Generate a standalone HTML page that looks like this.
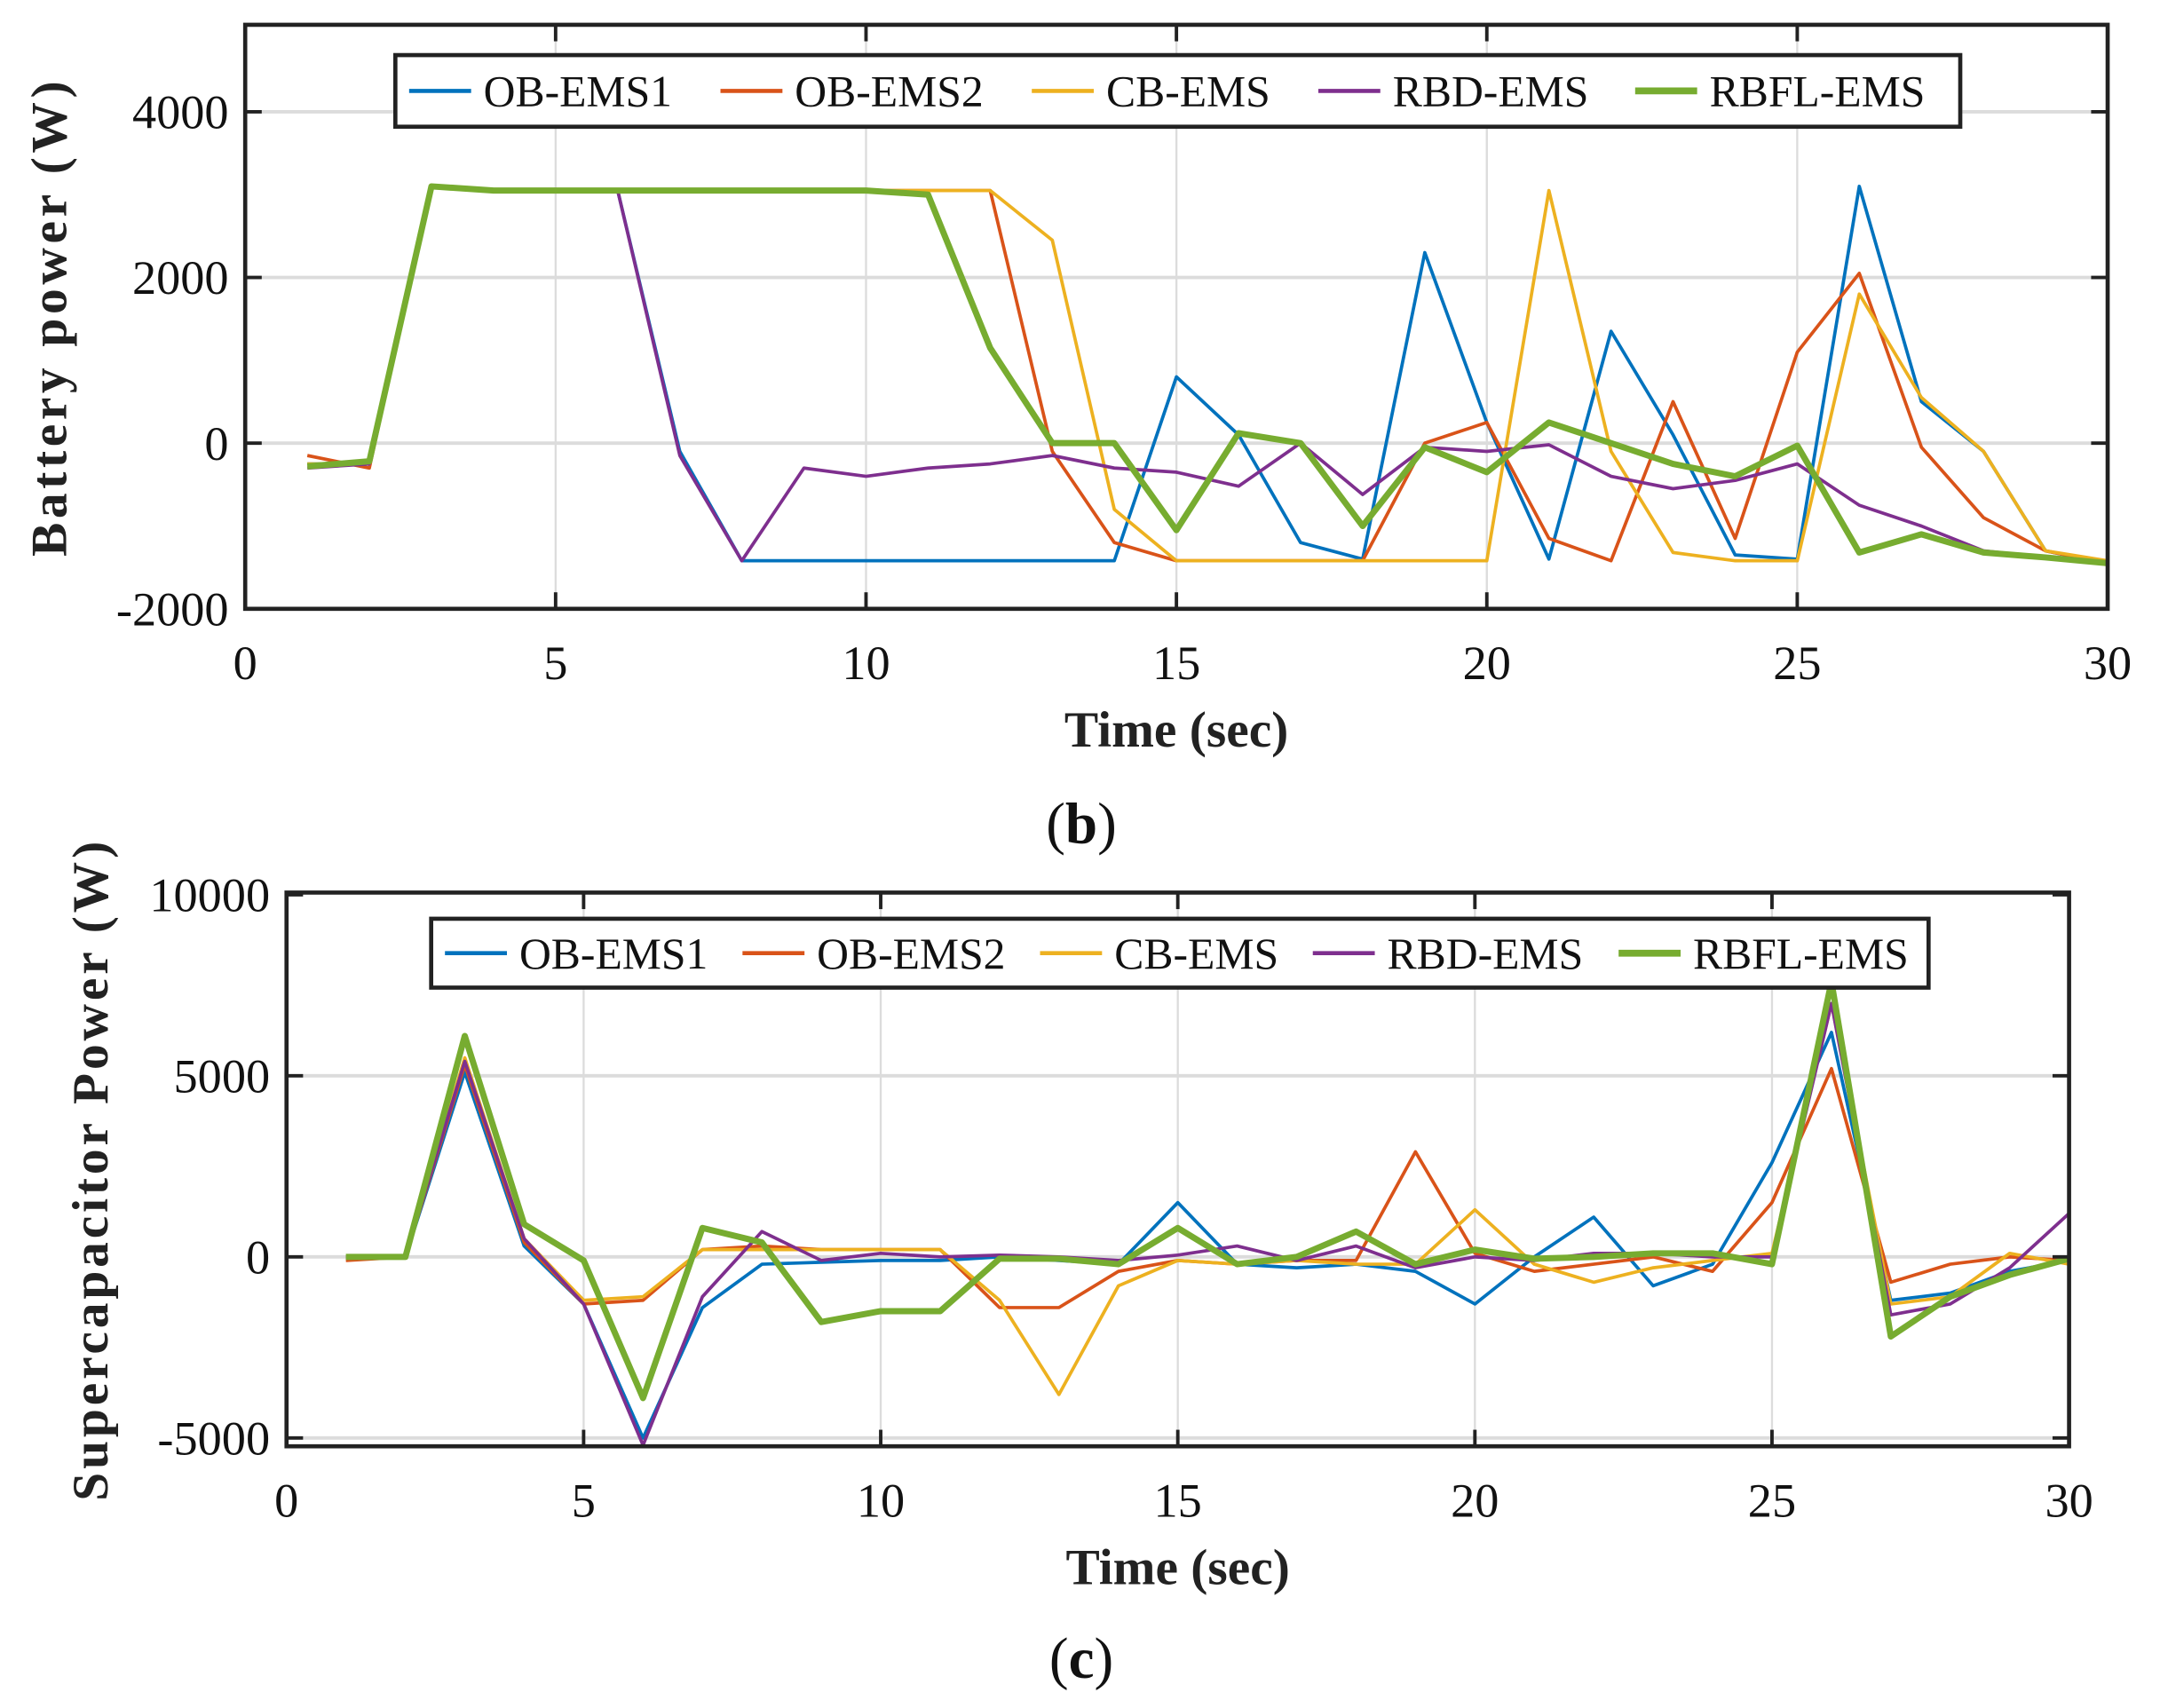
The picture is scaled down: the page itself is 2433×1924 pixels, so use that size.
<!DOCTYPE html>
<html><head><meta charset="utf-8"><style>
html,body{margin:0;padding:0;background:#fff;}
svg{display:block;font-family:"Liberation Serif",serif;}
</style></head><body>
<svg id="fig" width="2433" height="1924" viewBox="0 0 1568 1240" preserveAspectRatio="none" xmlns="http://www.w3.org/2000/svg"></svg>
<script>
const times = [1,2,3,4,5,6,7,8,9,10,11,12,13,14,15,16,17,18,19,20,21,22,23,24,25,26,27,28,29,30];
const seriesNames = ["OB-EMS1","OB-EMS2","CB-EMS","RBD-EMS","RBFL-EMS"];
const bat_ob1 = [-250,-250,3100,3050,3050,3050,-100,-1420,-1420,-1420,-1420,-1420,-1420,-1420,800,100,-1200,-1400,2300,250,-1400,1350,100,-1350,-1400,3100,500,-100,-1300,-1450];
const bat_ob2 = [-150,-300,3100,3050,3050,3050,3050,3050,3050,3050,3050,3050,-100,-1200,-1420,-1420,-1420,-1420,0,250,-1150,-1420,500,-1150,1100,2050,-50,-900,-1300,-1450];
const bat_cb = [-250,-250,3100,3050,3050,3050,3050,3050,3050,3050,3050,3050,2450,-800,-1420,-1420,-1420,-1420,-1420,-1420,3050,-100,-1320,-1420,-1420,1800,550,-100,-1300,-1420];
const bat_rbd = [-300,-250,3100,3050,3050,3050,-150,-1420,-300,-400,-300,-250,-150,-300,-350,-520,0,-620,-50,-100,-20,-400,-550,-450,-250,-750,-1000,-1300,-1380,-1450];
const bat_rbfl = [-280,-220,3100,3050,3050,3050,3050,3050,3050,3050,3000,1150,0,0,-1050,120,0,-1000,-50,-350,250,0,-250,-400,-30,-1320,-1100,-1320,-1380,-1450];
const sc_ob1 = [0,0,5100,300,-1300,-5000,-1400,-200,-150,-100,-100,0,-100,-200,1500,-200,-300,-200,-400,-1300,0,1100,-800,-200,2600,6200,-1200,-1000,-400,-100];
const sc_ob2 = [-100,0,5300,400,-1300,-1200,200,300,200,200,200,-1400,-1400,-400,-100,-200,-100,-100,2900,100,-400,-200,0,-400,1500,5200,-700,-200,0,-100];
const sc_cb = [0,0,5500,500,-1200,-1100,200,200,200,200,200,-1200,-3800,-800,-100,-200,-100,-200,-200,1300,-200,-700,-300,-100,100,7000,-1300,-1100,100,-200];
const sc_rbd = [0,0,5400,500,-1300,-5200,-1100,700,-100,100,0,50,0,-100,50,300,-100,300,-300,0,-100,100,100,0,0,7000,-1600,-1300,-300,1200];
const sc_rbfl = [0,0,6100,900,-100,-3900,800,400,-1800,-1500,-1500,-50,-50,-200,800,-200,0,700,-200,200,-50,0,100,100,-200,7600,-2200,-1100,-500,-50];
const xTicks = [0,5,10,15,20,25,30];
const batYTicks = [-2000,0,2000,4000];
const scYTicks = [-5000,0,5000,10000];
const colors = ["#0072BD","#D95319","#EDB120","#7E2F8E","#77AC30"];
const NS="http://www.w3.org/2000/svg";
const svg=document.getElementById('fig');
function mk(tag,attrs,parent){const e=document.createElementNS(NS,tag);for(const k in attrs)e.setAttribute(k,attrs[k]);(parent||svg).appendChild(e);return e;}

function chart(cfg){
  const g=mk('g',{});
  
  
  const {L,R,T,B,ymin,ymax}=cfg;
  const sx=v=>L+(v-0)/(30-0)*(R-L);
  const sy=v=>B-(v-ymin)/(ymax-ymin)*(B-T);
  mk('rect',{x:L,y:T,width:R-L,height:B-T,fill:'#fff'},g);
  xTicks.forEach(t=>{ if(t>0&&t<30){const l=mk('line',{x1:sx(t),x2:sx(t),y1:T,y2:B,stroke:'#dcdcdc','stroke-width':1.5},g);
    }});
  cfg.yticks.forEach(t=>{const y=sy(t);if(y>T+2&&y<B-2){const l=mk('line',{x1:L,x2:R,y1:y,y2:y,stroke:'#dcdcdc','stroke-width':2.5},g);
    }});
  cfg.series.forEach((d,i)=>{
    const pts=times.map((t,j)=>sx(t).toFixed(1)+','+sy(d[j]).toFixed(1)).join(' ');
    const p=mk('polyline',{points:pts,fill:'none',stroke:colors[i],'stroke-width':i==4?4.5:2.4,'stroke-linejoin':'round'},g);
    
    
  });
  xTicks.forEach(t=>{const x=sx(t);
    mk('line',{x1:x,x2:x,y1:B,y2:B-12,stroke:'#222','stroke-width':2.5},g);
    mk('line',{x1:x,x2:x,y1:T,y2:T+12,stroke:'#222','stroke-width':2.5},g);
    const tx=mk('text',{x:x,y:B+51,'font-size':35,'text-anchor':'middle',fill:'#111'},g);tx.textContent=t;
    });
  cfg.yticks.forEach(t=>{const y=sy(t);
    mk('line',{x1:L,x2:L+12,y1:y,y2:y,stroke:'#222','stroke-width':2.5},g);
    mk('line',{x1:R,x2:R-12,y1:y,y2:y,stroke:'#222','stroke-width':2.5},g);
    const tx=mk('text',{x:L-12,y:y+12,'font-size':35,'text-anchor':'end',fill:'#111'},g);tx.textContent=t;
    });
  const fr=mk('rect',{x:L,y:T,width:R-L,height:B-T,fill:'none',stroke:'#222','stroke-width':3},g);
  
  const xt=mk('text',{x:(L+R)/2,y:B+100,'font-size':37,'font-weight':'bold','text-anchor':'middle',fill:'#222'},g);
  xt.textContent='Time (sec)';
  const yt=mk('text',{x:0,y:0,'font-size':37,'font-weight':'bold','text-anchor':'middle','letter-spacing':cfg.ls,fill:'#222',transform:`translate(${cfg.ylx},${(T+B)/2}) rotate(-90)`},g);
  yt.textContent=cfg.ylabel;
  const cap=mk('text',{x:785,y:cfg.capY,'font-size':42,'text-anchor':'middle',fill:'#111'},g);
  cap.innerHTML='(<tspan font-weight="bold">'+cfg.cap+'</tspan>)';
  
  const lg=mk('g',{},g);
  mk('rect',{x:cfg.lx,y:cfg.ly,width:cfg.lw,height:cfg.lh,fill:'#fff',stroke:'#222','stroke-width':3},lg);
  let x=cfg.lx+10;const cy=cfg.ly+cfg.lh/2;
  seriesNames.forEach((n,i)=>{
    mk('line',{x1:x,x2:x+45,y1:cy,y2:cy,stroke:colors[i],'stroke-width':i==4?5:3},lg);
    const t=mk('text',{x:x+54,y:cy+11,'font-size':32,fill:'#111'},lg);t.textContent=n;
    
    x+=cfg.step[i];
  });
}
chart({name:'battery-power-chart',L:178,R:1530,T:18,B:442,ymin:-2000,ymax:5050,yticks:batYTicks,
  series:[bat_ob1,bat_ob2,bat_cb,bat_rbd,bat_rbfl],ylabel:'Battery power (W)',ylx:48,ls:3,cap:'b',capY:612,
  lx:287,ly:40,lw:1136,lh:52,step:[226,226,208,230,230]});
chart({name:'supercapacitor-power-chart',L:208,R:1502,T:648,B:1050,ymin:-5230,ymax:10060,yticks:scYTicks,
  series:[sc_ob1,sc_ob2,sc_cb,sc_rbd,sc_rbfl],ylabel:'Supercapacitor Power (W)',ylx:78,ls:2.5,cap:'c',capY:1218,
  lx:313,ly:667,lw:1087,lh:50,step:[216,216,198,222,222]});
</script>
</body></html>
